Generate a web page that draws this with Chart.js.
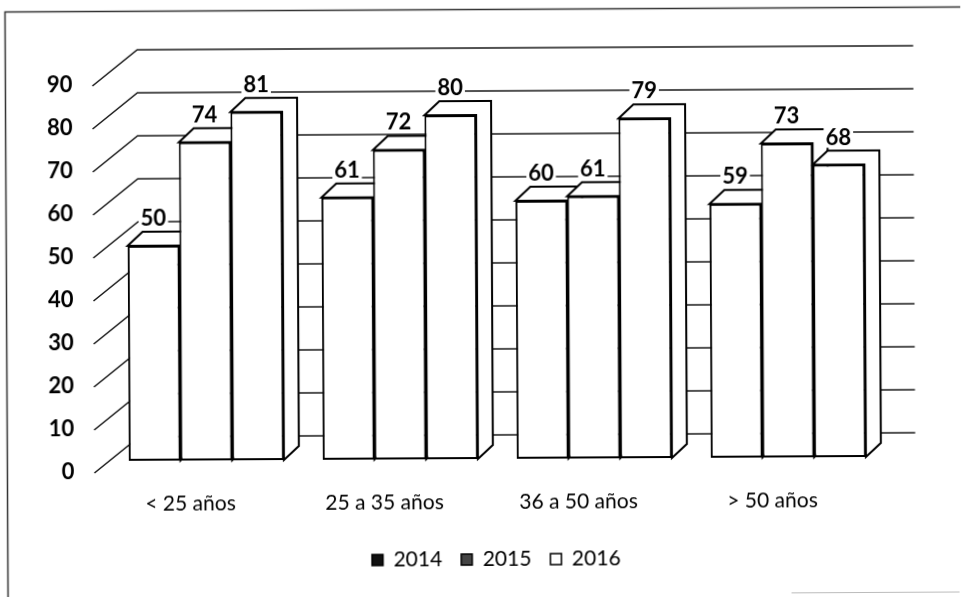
<!DOCTYPE html>
<html>
<head>
<meta charset="utf-8">
<script src="https://cdn.jsdelivr.net/npm/chart.js@4.4.1/dist/chart.umd.min.js"></script>
<style>
  body { margin: 0; background: #fff; overflow: hidden; }
  #wrap { width: 962px; height: 597px; transform: rotate(-0.3deg); }
</style>
</head>
<body>
<div id="wrap"><canvas id="chart" width="962" height="597"></canvas></div>
<script>
// Data
const categories = ['< 25 años', '25 a 35 años', '36 a 50 años', '> 50 años'];
const years = ['2014', '2015', '2016'];
const values2014 = [50, 61, 60, 59];
const values2015 = [74, 72, 61, 73];
const values2016 = [81, 80, 79, 68];
const yMax = 90;
const yStep = 10;

const legendFills = ['#111', '#444', '#fff'];

// 3D look: bar depth and back wall offset
const depth = { x: 15, y: 14 };
const wall = { x: 30, y: 24 };

Chart.defaults.font.family = 'Lato';
Chart.defaults.color = '#000';

const bar3d = {
    id: 'bar3d',
    beforeDraw(chart) {
        const { ctx } = chart;
        ctx.save();
        ctx.fillStyle = '#fff';
        ctx.fillRect(0, 0, chart.width, chart.height);
        // scanned frame
        ctx.strokeStyle = '#333';
        ctx.lineWidth = 1.5;
        ctx.beginPath();
        ctx.moveTo(6.5, 597);
        ctx.lineTo(6.5, 9.5);
        ctx.lineTo(962, 9.5);
        ctx.stroke();
        ctx.strokeStyle = '#bbb';
        ctx.lineWidth = 1;
        ctx.beginPath();
        ctx.moveTo(790, 594.5);
        ctx.lineTo(958, 594.5);
        ctx.stroke();
        ctx.restore();
    },
    beforeDatasetsDraw(chart) {
        const { ctx, chartArea, scales: { y } } = chart;
        ctx.save();
        // gridlines on the back wall, with the diagonal from the label plane
        ctx.strokeStyle = '#1a1a1a';
        ctx.lineWidth = 1.6;
        y.ticks.forEach(t => {
            const py = y.getPixelForValue(t.value);
            ctx.beginPath();
            ctx.moveTo(chartArea.left - 15, py + 12);
            ctx.lineTo(chartArea.left + wall.x, py - wall.y);
            ctx.lineTo(chartArea.right + wall.x, py - wall.y);
            ctx.stroke();
        });
        // top and side faces, left to right so neighbours overlap correctly
        ctx.lineWidth = 2;
        ctx.strokeStyle = '#000';
        ctx.fillStyle = '#fff';
        ctx.lineJoin = 'miter';
        categories.forEach((c, j) => {
            chart.data.datasets.forEach((ds, i) => {
                const bar = chart.getDatasetMeta(i).data[j];
                const l = bar.x - bar.width / 2;
                const r = bar.x + bar.width / 2;
                const t = bar.y;
                const b = bar.base;
                ctx.beginPath();
                ctx.moveTo(l, t);
                ctx.lineTo(l + depth.x, t - depth.y);
                ctx.lineTo(r + depth.x, t - depth.y);
                ctx.lineTo(r + depth.x, b - depth.y);
                ctx.lineTo(r, b);
                ctx.lineTo(r, t);
                ctx.closePath();
                ctx.fill();
                ctx.stroke();
            });
        });
        ctx.restore();
    },
    afterDatasetsDraw(chart) {
        const { ctx } = chart;
        ctx.save();
        ctx.font = 'bold 22px Lato';
        ctx.textAlign = 'center';
        ctx.textBaseline = 'middle';
        chart.data.datasets.forEach((ds, i) => {
            chart.getDatasetMeta(i).data.forEach((bar, j) => {
                const txt = String(ds.data[j]);
                const w = ctx.measureText(txt).width;
                const cy = bar.y - 27;
                ctx.fillStyle = '#fff';
                ctx.fillRect(bar.x - w / 2 - 2, cy - 10, w + 4, 20);
                ctx.fillStyle = '#000';
                ctx.fillText(txt, bar.x, cy);
            });
        });
        ctx.restore();
    }
};

const makeDataset = (label, data) => ({
    label,
    data,
    backgroundColor: '#fff',
    borderColor: '#000',
    borderWidth: 2,
    borderSkipped: false,
    categoryPercentage: 0.8,
    barPercentage: 1.0
});

new Chart(document.getElementById('chart'), {
    type: 'bar',
    data: {
        labels: categories,
        datasets: [
            makeDataset(years[0], values2014),
            makeDataset(years[1], values2015),
            makeDataset(years[2], values2016)
        ]
    },
    options: {
        responsive: false,
        animation: false,
        layout: {
            padding: { left: 45, right: 17, top: 72, bottom: 17 }
        },
        scales: {
            x: {
                grid: { display: false, drawTicks: false },
                border: { display: false },
                ticks: { font: { size: 21 }, color: '#000', padding: 31, labelOffset: -16 },
                afterFit: s => { s.height = 71; }
            },
            y: {
                min: 0,
                max: yMax,
                grid: { display: false, drawTicks: false },
                border: { display: false },
                ticks: { stepSize: yStep, padding: 35, labelOffset: 11, font: { size: 22, weight: 'bold' }, color: '#000' },
                afterFit: s => { s.width = 63.5; }
            },
            // empty right axis, only reserves room for the back wall depth
            yRight: {
                position: 'right',
                min: 0,
                max: yMax,
                grid: { display: false, drawTicks: false },
                border: { display: false },
                ticks: { display: false },
                afterFit: s => { s.width = 60.5; }
            }
        },
        plugins: {
            tooltip: { enabled: false },
            legend: {
                position: 'bottom',
                labels: {
                    font: { size: 21 },
                    color: '#000',
                    boxWidth: 11,
                    boxHeight: 11,
                    padding: 19,
                    generateLabels: () => years.map((yr, i) => ({
                        text: yr,
                        fillStyle: legendFills[i],
                        strokeStyle: '#000',
                        lineWidth: 1.5,
                        datasetIndex: i
                    }))
                }
            }
        }
    },
    plugins: [bar3d]
});
</script>
</body>
</html>
